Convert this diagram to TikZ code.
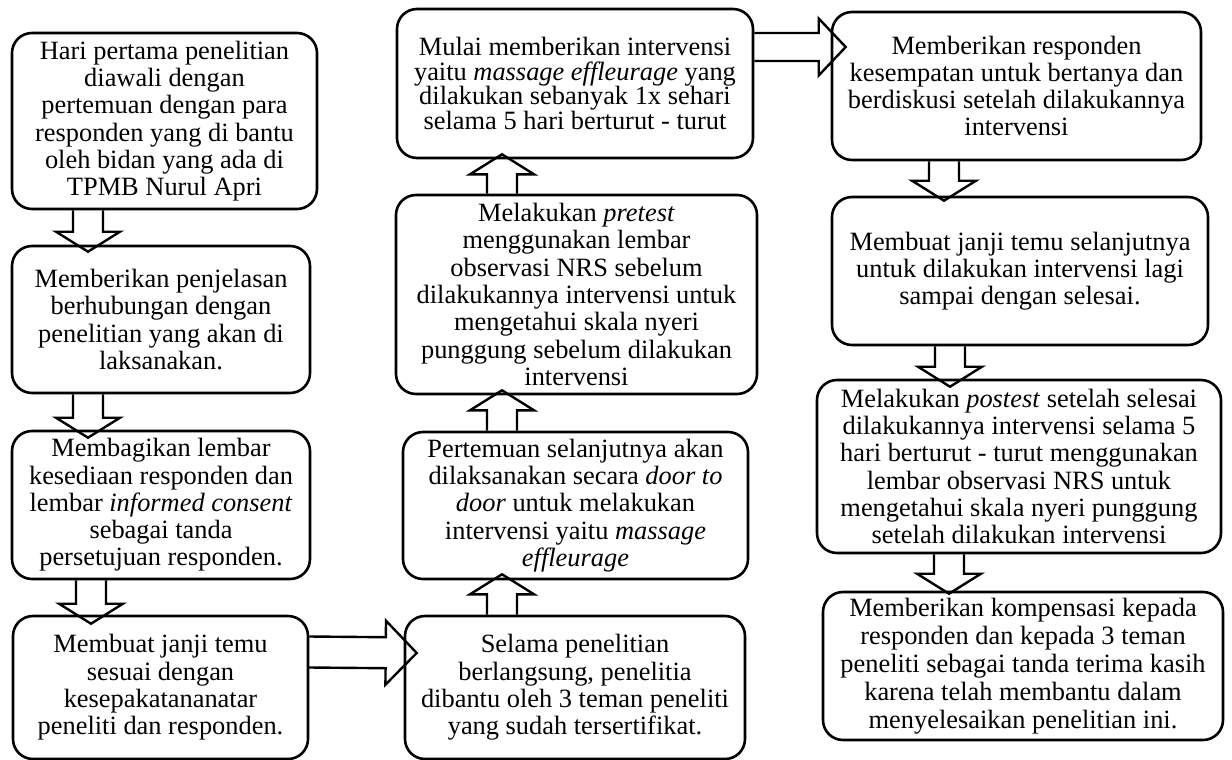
\documentclass[tikz,border=0pt]{standalone}
\usepackage{fontspec}
\setmainfont{Liberation Serif}
\usepackage{tikz}
\usetikzlibrary{calc}
\tikzset{
  proc/.style={draw,rounded corners=10pt,line width=1.3pt,align=center,inner sep=0pt,
    font=\fontsize{13.2pt}{13.65pt}\selectfont},
  blockline/.style={draw,line width=1.2pt,line join=miter},
  blkshaft/.store in=\blkshaft, blkshaft=7.5pt,
  blkhead/.store in=\blkhead, blkhead=16pt,
  blklen/.store in=\blklen, blklen=10pt,
}
% hollow block arrow from #2 to the tip #3
\newcommand\blockarrow[3][]{%
  \begin{scope}[#1]
    \coordinate (ba) at (#2);
    \coordinate (bb) at (#3);
    \coordinate (bh) at ($(bb)!\blklen!(ba)$);
    \draw[blockline] ($(ba)!\blkshaft!90:(bb)$) -- ($(bh)!\blkshaft!-90:(ba)$)
      -- ($(bh)!\blkhead!-90:(ba)$) -- (bb) -- ($(bh)!\blkhead!90:(ba)$)
      -- ($(bh)!\blkshaft!90:(ba)$) -- ($(ba)!\blkshaft!-90:(bb)$);
  \end{scope}}

\begin{document}
\begin{tikzpicture}[x=0.5pt,y=-0.5pt]
  \useasboundingbox (0,0) rectangle (1232,760);
  % column 1
  \node[proc,minimum width=152.5pt,minimum height=88pt] (hari) at (164.5,121)
    {Hari pertama penelitian\\diawali dengan\\pertemuan dengan para\\responden yang di bantu\\oleh bidan yang ada di\\TPMB Nurul Apri};
  \node[proc,minimum width=149pt,minimum height=73.5pt] (jelas) at (161,319.5)
    {Memberikan penjelasan\\berhubungan dengan\\penelitian yang akan di\\laksanakan.};
  \node[proc,minimum width=149pt,minimum height=74pt] (bagi) at (161,505)
    {Membagikan lembar\\kesediaan responden dan\\lembar \textit{informed consent}\\sebagai tanda\\persetujuan responden.};
  \node[proc,minimum width=147.5pt,minimum height=71.5pt] (janji) at (160.5,687.5)
    {Membuat janji temu\\sesuai dengan\\kesepakatananatar\\peneliti dan responden.};
  % column 2
  \node[proc,minimum width=170pt,minimum height=71.5pt] (selama) at (575,687.5)
    {Selama penelitian\\berlangsung, penelitia\\dibantu oleh 3 teman peneliti\\yang sudah tersertifikat.};
  \node[proc,minimum width=172.5pt,minimum height=73.5pt] (temu) at (575.5,505.5)
    {Pertemuan selanjutnya akan\\dilaksanakan secara \textit{door to}\\\textit{door} untuk melakukan\\intervensi yaitu \textit{massage}\\\textit{effleurage}};
  \node[proc,minimum width=180.5pt,minimum height=99.5pt] (pretest) at (576.5,294.5)
    {Melakukan \textit{pretest}\\menggunakan lembar\\observasi NRS sebelum\\dilakukannya intervensi untuk\\mengetahui skala nyeri\\punggung sebelum dilakukan\\intervensi};
  \node[proc,minimum width=178pt,minimum height=74.5pt,
    font=\fontsize{13.2pt}{12.2pt}\selectfont] (mulai) at (575,83.5)
    {Mulai memberikan intervensi\\yaitu \textit{massage effleurage} yang\\dilakukan sebanyak 1x sehari\\selama 5 hari berturut - turut};
  % column 3
  \node[proc,minimum width=184.5pt,minimum height=74pt] (diskusi) at (1016.5,86)
    {Memberikan responden\\kesempatan untuk bertanya dan\\berdiskusi setelah dilakukannya\\intervensi};
  \node[proc,minimum width=188pt,minimum height=74pt] (lagi) at (1020,271)
    {Membuat janji temu selanjutnya\\untuk dilakukan intervensi lagi\\sampai dengan selesai.};
  \node[proc,minimum width=202pt,minimum height=86.5pt] (postest) at (1019,466.5)
    {Melakukan \textit{postest} setelah selesai\\dilakukannya intervensi selama 5\\hari berturut - turut menggunakan\\lembar observasi NRS untuk\\mengetahui skala nyeri punggung\\setelah dilakukan intervensi};
  \node[proc,minimum width=200pt,minimum height=74pt,
    font=\fontsize{13.2pt}{14pt}\selectfont] (kompen) at (1023,666)
    {Memberikan kompensasi kepada\\responden dan kepada 3 teman\\peneliti sebagai tanda terima kasih\\karena telah membantu dalam\\menyelesaikan penelitian ini.};
  % arrows
  \blockarrow{$(hari.south)+(-76.5,0)$}{$(jelas.north)+(-73,7)$}
  \blockarrow{$(jelas.south)+(-73,0)$}{$(bagi.north)+(-73,8)$}
  \blockarrow{$(bagi.south)+(-70,0)$}{$(janji.north)+(-69.5,9)$}
  \blockarrow[blklen=15.5pt,blkshaft=7.75pt]{$(janji.east)+(0,-35.5)$}{$(selama.west)+(13,-34.5)$}
  \blockarrow{$(selama.north)+(-73,0)$}{$(temu.south)+(-73.5,-6)$}
  \blockarrow{$(temu.north)+(-73.5,0)$}{$(pretest.south)+(-74.5,-5)$}
  \blockarrow{$(pretest.north)+(-74.5,0)$}{$(mulai.south)+(-73,-5)$}
  \blockarrow[blklen=13.5pt,blkshaft=7pt,blkhead=14.25pt]{$(mulai.east)+(0,-36.5)$}{$(diskusi.west)+(15,-39)$}
  \blockarrow{$(diskusi.south)+(-72.5,0)$}{$(lagi.north)+(-76,5)$}
  \blockarrow{$(lagi.south)+(-70,0)$}{$(postest.north)+(-69,8)$}
  \blockarrow{$(postest.south)+(-70,0)$}{$(kompen.north)+(-74,3)$}
\end{tikzpicture}
\end{document}
